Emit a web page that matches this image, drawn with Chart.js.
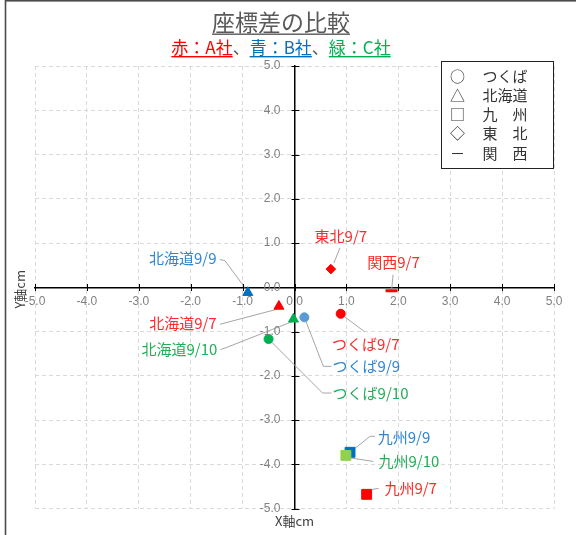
<!DOCTYPE html>
<html lang="ja">
<head>
<meta charset="utf-8">
<title>座標差の比較</title>
<script src="https://cdn.jsdelivr.net/npm/chart.js@4/dist/chart.umd.min.js"></script>
<style>
  html, body { margin: 0; padding: 0; background: #fff; }
  canvas { display: block; }
</style>
</head>
<body>
<canvas id="chart" width="576" height="535"></canvas>
<script>
// ---- data (cm) ----
const TICK_VALUES = [-5, -4, -3, -2, -1, 0, 1, 2, 3, 4, 5];

// 赤：A社 — measured 9/7
const A_DATE = '9/7';
const A_SITES = ['つくば', '北海道', '九州', '東北', '関西'];
const A_X = [0.89, -0.30, 1.39, 0.70, 1.87];
const A_Y = [-0.60, -0.43, -4.68, 0.41, -0.08];

// 青：B社 — measured 9/9
const B_DATE = '9/9';
const B_SITES = ['つくば', '北海道', '九州'];
const B_X = [0.19, -0.90, 1.07];
const B_Y = [-0.68, -0.12, -3.73];

// 緑：C社 — measured 9/10
const C_DATE = '9/10';
const C_SITES = ['つくば', '北海道', '九州'];
const C_X = [-0.50, -0.02, 0.99];
const C_Y = [-1.17, -0.72, -3.80];

// legend entries (marker shape per site)
const LEGEND_SYMBOLS = ['○', '△', '□', '◇', '－'];
const LEGEND_NAMES = ['つくば', '北海道', '九　州', '東　北', '関　西'];

// ---- styling ----
const JP_FONT = '"Noto Sans CJK JP", "Noto Sans", sans-serif';
const TICK_FONT = '12px "Liberation Sans", Arial, sans-serif';
const TEXT_GRAY = '#595959';
const COLOR_RED = '#FF0000';
const COLOR_BLUE = '#0070C0';
const COLOR_GREEN = '#00B050';

const SITE_STYLE = {
  'つくば': { shape: 'circle', radius: 4.5 },
  '北海道': { shape: 'triangle', radius: 5.8 },
  '九州': { shape: 'rect', radius: 7 },
  '東北': { shape: 'rectRot', radius: 4.8 },
  '関西': { shape: 'line', radius: 6 }
};

// per-company fill colours for each site marker
const A_FILL = { 'つくば': '#FF0000', '北海道': '#FF0000', '九州': '#FF0000', '東北': '#FF0000', '関西': '#FF0000' };
const B_FILL = { 'つくば': '#5B9BD5', '北海道': '#0070C0', '九州': '#0070C0' };
const C_FILL = { 'つくば': '#00B050', '北海道': '#00B050', '九州': '#92D050' };

const LABEL_COLORS = ['#FF2A2A', '#2F86D1', '#22AE58'];

// label placement, in pixels relative to each marker: text centre + leader path
const LABEL_LAYOUT = {
  'つくば9/7':   { text: [25, 30],    path: [[0, 0], [24, 18]] },
  '北海道9/7':   { text: [-96, 17],   path: [[-2, 3], [-59, 18]] },
  '九州9/7':     { text: [44, -6],    path: [[1, 0], [6, -5], [12, -6]] },
  '東北9/7':     { text: [10, -33],   path: [[3, -6], [9, -21]] },
  '関西9/7':     { text: [2, -28],    path: [[0, 0], [1.5, -16]] },
  '北海道9/9':   { text: [-65, -34],  path: [[-3, -5], [-23, -32], [-28, -33]] },
  'つくば9/9':   { text: [62, 49],    path: [[0, 0], [19, 49], [27, 49]] },
  '九州9/9':     { text: [54, -15],   path: [[0, 0], [20, -16], [25, -16]] },
  '北海道9/10':  { text: [-114, 30],  path: [[0, 2], [-66, 28], [-73, 30.5]] },
  'つくば9/10':  { text: [102, 54],   path: [[0, 0], [54, 54], [63, 54]] },
  '九州9/10':    { text: [63, 6],     path: [[4, 2.5], [27.5, 6]] }
};

function buildDataset(name, date, sites, xs, ys, fills, labelColor) {
  return {
    label: name,
    data: sites.map((s, i) => ({ x: xs[i], y: ys[i], tag: s + date })),
    pointStyle: sites.map(s => SITE_STYLE[s].shape),
    pointRadius: sites.map(s => SITE_STYLE[s].radius),
    pointBackgroundColor: sites.map(s => fills[s]),
    pointBorderColor: sites.map(s => fills[s]),
    pointBorderWidth: sites.map(s => SITE_STYLE[s].shape === 'line' ? 3 : 1),
    showLine: false,
    labelColor: labelColor
  };
}

// white page + outer frame
const framePlugin = {
  id: 'frame',
  beforeDraw(chart) {
    const ctx = chart.ctx;
    ctx.save();
    ctx.fillStyle = '#fff';
    ctx.fillRect(0, 0, chart.width, chart.height);
    ctx.strokeStyle = '#4a4a4a';
    ctx.lineWidth = 1.6;
    ctx.strokeRect(5.5, 0.8, chart.width + 20, chart.height + 20);
    ctx.restore();
  }
};

// title with underline and colour-coded company key
const titlePlugin = {
  id: 'titles',
  afterDraw(chart) {
    const ctx = chart.ctx;
    const cx = 281;
    ctx.save();
    ctx.textBaseline = 'alphabetic';
    ctx.font = '23px ' + JP_FONT;
    ctx.fillStyle = TEXT_GRAY;
    ctx.textAlign = 'center';
    const title = '座標差の比較';
    ctx.fillText(title, cx, 31);
    const tw = ctx.measureText(title).width;
    ctx.fillRect(cx - tw / 2, 33.5, tw, 1.4);

    const parts = [
      { t: '赤：A社', c: COLOR_RED, u: true },
      { t: '、', c: TEXT_GRAY, u: false },
      { t: '青：B社', c: COLOR_BLUE, u: true },
      { t: '、', c: TEXT_GRAY, u: false },
      { t: '緑：C社', c: COLOR_GREEN, u: true }
    ];
    ctx.font = '17px ' + JP_FONT;
    ctx.textAlign = 'left';
    const total = parts.reduce((s, p) => s + ctx.measureText(p.t).width, 0);
    let x = cx - total / 2;
    parts.forEach(p => {
      const w = ctx.measureText(p.t).width;
      ctx.fillStyle = p.c;
      ctx.fillText(p.t, x, 54);
      if (p.u) ctx.fillRect(x, 56, w, 1.4);
      x += w;
    });
    ctx.restore();
  }
};

// axis tick marks crossing the axis lines, y tick labels, axis titles
const axesPlugin = {
  id: 'axesExtra',
  afterDraw(chart) {
    const ctx = chart.ctx;
    const xs = chart.scales.x, ys = chart.scales.y;
    const x0 = Math.round(xs.getPixelForValue(0)) + 0.5;
    const y0 = Math.round(ys.getPixelForValue(0)) + 0.5;
    ctx.save();
    ctx.strokeStyle = '#000';
    ctx.lineWidth = 1;
    ctx.beginPath();
    TICK_VALUES.forEach(v => {
      const px = Math.round(xs.getPixelForValue(v)) + 0.5;
      ctx.moveTo(px, y0 - 3.5); ctx.lineTo(px, y0 + 3.5);
      const py = Math.round(ys.getPixelForValue(v)) + 0.5;
      ctx.moveTo(x0 - 4, py); ctx.lineTo(x0 + 4, py);
    });
    ctx.stroke();

    ctx.fillStyle = '#808080';
    ctx.font = TICK_FONT;
    ctx.textAlign = 'right';
    ctx.textBaseline = 'middle';
    TICK_VALUES.forEach(v => {
      ctx.fillText(v.toFixed(1), x0 - 15, ys.getPixelForValue(v));
    });

    ctx.fillStyle = '#404040';
    ctx.font = '13px ' + JP_FONT;
    ctx.textAlign = 'center';
    ctx.fillText('X軸cm', xs.getPixelForValue(0), chart.chartArea.bottom + 13);
    ctx.translate(20, ys.getPixelForValue(0) + 2);
    ctx.rotate(-Math.PI / 2);
    ctx.fillText('Y軸cm', 0, 0);
    ctx.restore();
  }
};

// leader lines under the markers, point labels above them
const pointLabelPlugin = {
  id: 'pointLabels',
  beforeDatasetsDraw(chart) {
    const ctx = chart.ctx;
    ctx.save();
    ctx.strokeStyle = '#A6A6A6';
    ctx.lineWidth = 1;
    chart.data.datasets.forEach((ds, di) => {
      const meta = chart.getDatasetMeta(di);
      ds.data.forEach((d, i) => {
        const lay = LABEL_LAYOUT[d.tag];
        if (!lay) return;
        const el = meta.data[i];
        ctx.beginPath();
        lay.path.forEach((p, k) => {
          const px = el.x + p[0], py = el.y + p[1];
          if (k === 0) ctx.moveTo(px, py); else ctx.lineTo(px, py);
        });
        ctx.stroke();
      });
    });
    ctx.restore();
  },
  afterDatasetsDraw(chart) {
    const ctx = chart.ctx;
    ctx.save();
    ctx.font = '15px ' + JP_FONT;
    ctx.textAlign = 'center';
    ctx.textBaseline = 'middle';
    chart.data.datasets.forEach((ds, di) => {
      const meta = chart.getDatasetMeta(di);
      ctx.fillStyle = ds.labelColor;
      ds.data.forEach((d, i) => {
        const lay = LABEL_LAYOUT[d.tag];
        if (!lay) return;
        const el = meta.data[i];
        ctx.fillText(d.tag, el.x + lay.text[0], el.y + lay.text[1]);
      });
    });
    ctx.restore();
  }
};

// boxed shape legend in the upper right
const shapeLegendPlugin = {
  id: 'shapeLegend',
  afterDraw(chart) {
    const ctx = chart.ctx;
    const left = 441.5, top = 61.5, w = 112, h = 107;
    ctx.save();
    ctx.fillStyle = '#fff';
    ctx.fillRect(left, top, w, h);
    ctx.strokeStyle = '#222';
    ctx.lineWidth = 1;
    ctx.strokeRect(left, top, w, h);
    ctx.fillStyle = '#333';
    ctx.textBaseline = 'middle';
    ctx.font = '15px ' + JP_FONT;
    LEGEND_NAMES.forEach((name, i) => {
      const y = top + 14.5 + i * 19.2;
      ctx.textAlign = 'center';
      ctx.fillText(LEGEND_SYMBOLS[i], left + 16, y);
      ctx.textAlign = 'left';
      ctx.fillText(name, left + 41, y);
    });
    ctx.restore();
  }
};

const datasets = [
  buildDataset('C社', C_DATE, C_SITES, C_X, C_Y, C_FILL, LABEL_COLORS[2]),
  buildDataset('B社', B_DATE, B_SITES, B_X, B_Y, B_FILL, LABEL_COLORS[1]),
  buildDataset('A社', A_DATE, A_SITES, A_X, A_Y, A_FILL, LABEL_COLORS[0])
];

function axisOptions(axisPos, showLabels, pad) {
  return {
    type: 'linear',
    min: -5,
    max: 5,
    position: axisPos,
    afterBuildTicks(scale) { scale.ticks = TICK_VALUES.map(v => ({ value: v })); },
    ticks: {
      display: showLabels,
      callback: v => Number(v).toFixed(1),
      color: '#808080',
      font: { family: '"Liberation Sans", Arial, sans-serif', size: 12 },
      padding: pad,
      maxRotation: 0,
      autoSkip: false
    },
    grid: { color: '#D9D9D9', lineWidth: 1, drawTicks: false },
    border: { color: '#000', width: 1.5, dash: [4, 3] }
  };
}

new Chart(document.getElementById('chart'), {
  type: 'scatter',
  data: { datasets },
  options: {
    responsive: false,
    animation: false,
    layout: { padding: { left: 35, right: 22, top: 66, bottom: 26.5 } },
    plugins: {
      legend: { display: false },
      tooltip: { enabled: false },
      title: { display: false }
    },
    scales: {
      x: axisOptions({ y: 0 }, true, 7),
      y: axisOptions({ x: 0 }, false, 0)
    }
  },
  plugins: [framePlugin, pointLabelPlugin, axesPlugin, titlePlugin, shapeLegendPlugin]
});
</script>
</body>
</html>
